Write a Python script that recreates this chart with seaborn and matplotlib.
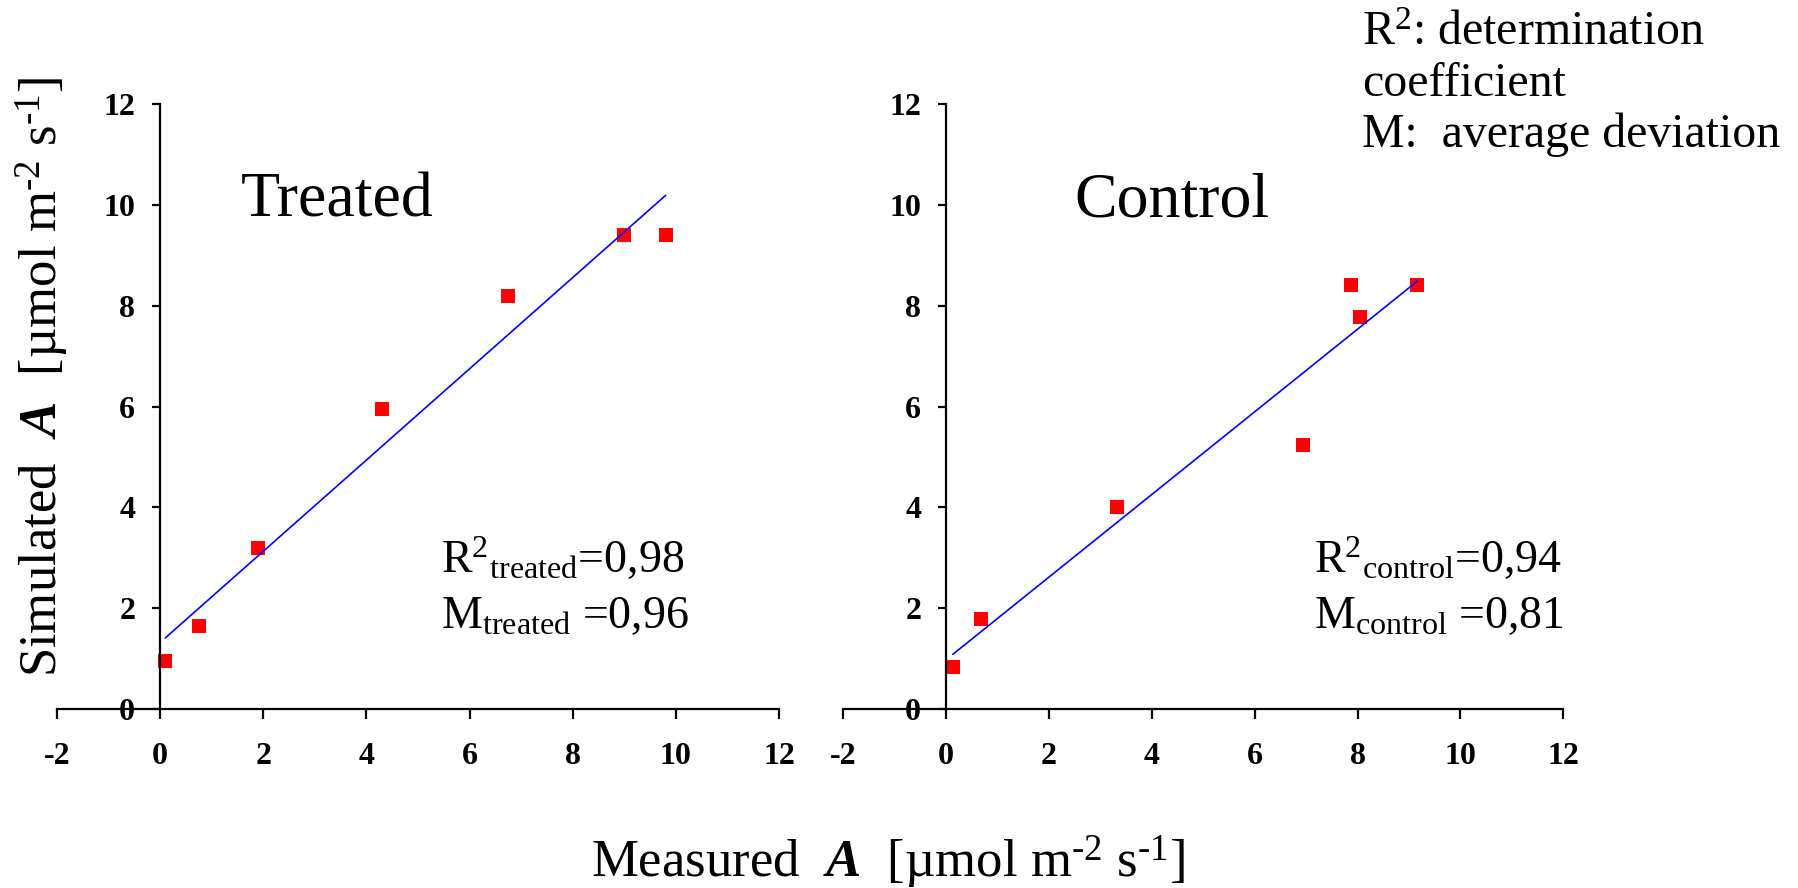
import matplotlib
matplotlib.use("Agg")
import matplotlib.pyplot as plt
import seaborn as sns
import pandas as pd

# --------------------------
# Data
# --------------------------
treated_measured = [0.10, 0.75, 1.90, 4.30, 6.75, 9.00, 9.80]
treated_simulated = [0.95, 1.65, 3.20, 5.95, 8.20, 9.40, 9.40]

control_measured = [0.13, 0.67, 3.33, 6.93, 7.88, 8.04, 9.16]
control_simulated = [0.84, 1.78, 4.01, 5.23, 8.42, 7.78, 8.42]

panel_names = ["Treated", "Control"]
r2_labels = [r"R$^{2}$$_{\mathrm{treated}}$=0,98", r"R$^{2}$$_{\mathrm{control}}$=0,94"]
m_labels = [r"M$_{\mathrm{treated}}$ =0,96", r"M$_{\mathrm{control}}$ =0,81"]
ticks = [-2, 0, 2, 4, 6, 8, 10, 12]
yticks = [0, 2, 4, 6, 8, 10, 12]
unit = r"[µmol m$^{\text{-2}}$ s$^{\text{-1}}$]"

# --------------------------
# Setup
# --------------------------
sns.set_theme(style="white")
plt.rcParams["font.family"] = ["Liberation Serif", "DejaVu Serif"]
plt.rcParams["mathtext.fontset"] = "custom"
plt.rcParams["mathtext.rm"] = "Liberation Serif"
plt.rcParams["mathtext.it"] = "Liberation Serif:italic"
plt.rcParams["mathtext.bf"] = "Liberation Serif:bold"
plt.rcParams["mathtext.bfit"] = "Liberation Serif:italic:bold"
plt.rcParams["axes.unicode_minus"] = False
for k in ["text.color", "axes.labelcolor", "xtick.color", "ytick.color"]:
    plt.rcParams[k] = "black"

fig = plt.figure(figsize=(17.98, 8.88), dpi=100)
ax_t = fig.add_axes([0.0317, 0.2016, 0.4016, 0.681])
ax_c = fig.add_axes([0.469, 0.2016, 0.4005, 0.681])

frames = [
    pd.DataFrame({"measured": treated_measured, "simulated": treated_simulated}),
    pd.DataFrame({"measured": control_measured, "simulated": control_simulated}),
]
text_x = [1.56, 2.49]
stat_x = [5.45, 7.15]

for ax, df, name, r2, m, tx, sx in zip([ax_t, ax_c], frames, panel_names,
                                        r2_labels, m_labels, text_x, stat_x):
    sns.regplot(data=df, x="measured", y="simulated", ax=ax, ci=None,
                marker="s", color="blue",
                scatter_kws={"s": 110, "color": "red", "linewidths": 0, "alpha": 1},
                line_kws={"color": "blue", "linewidth": 1.2})
    ax.set_xlim(-2, 12)
    ax.set_ylim(0, 12)
    ax.set_xticks(ticks)
    ax.set_yticks(yticks)
    ax.spines["left"].set_position(("data", 0))
    ax.spines["top"].set_visible(False)
    ax.spines["right"].set_visible(False)
    for s in ["left", "bottom"]:
        ax.spines[s].set_color("black")
        ax.spines[s].set_linewidth(1.6)
    ax.tick_params(axis="x", direction="out", length=7, width=1.6, pad=17,
                   labelsize=23, bottom=True)
    ax.tick_params(axis="y", direction="out", length=6, width=1.6, pad=12,
                   labelsize=23, left=True)
    for lab in ax.get_xticklabels() + ax.get_yticklabels():
        lab.set_fontweight("bold")
    ax.set_xlabel("")
    ax.set_ylabel("")
    ax.patch.set_alpha(0)
    ax.text(tx, 9.78, name, fontsize=46)
    ax.text(sx, 2.7, r2, fontsize=33)
    ax.text(sx, 1.6, m, fontsize=33)

fig.text(888 / 1798, 1 - 877 / 888, r"Measured  $\mathbfit{A}$  " + unit,
         fontsize=38, ha="center", va="baseline")
fig.text(42 / 1798, 0.575, r"Simulated  $\mathbfit{A}$  " + unit,
         fontsize=38, ha="center", va="center", rotation=90)
fig.text(1362 / 1798, 1 - 11 / 888,
         "R$^{2}$: determination\ncoefficient\nM:  average deviation",
         fontsize=34.5, ha="left", va="top", linespacing=1.2)

plt.savefig("out.png", dpi=100)
plt.close()
